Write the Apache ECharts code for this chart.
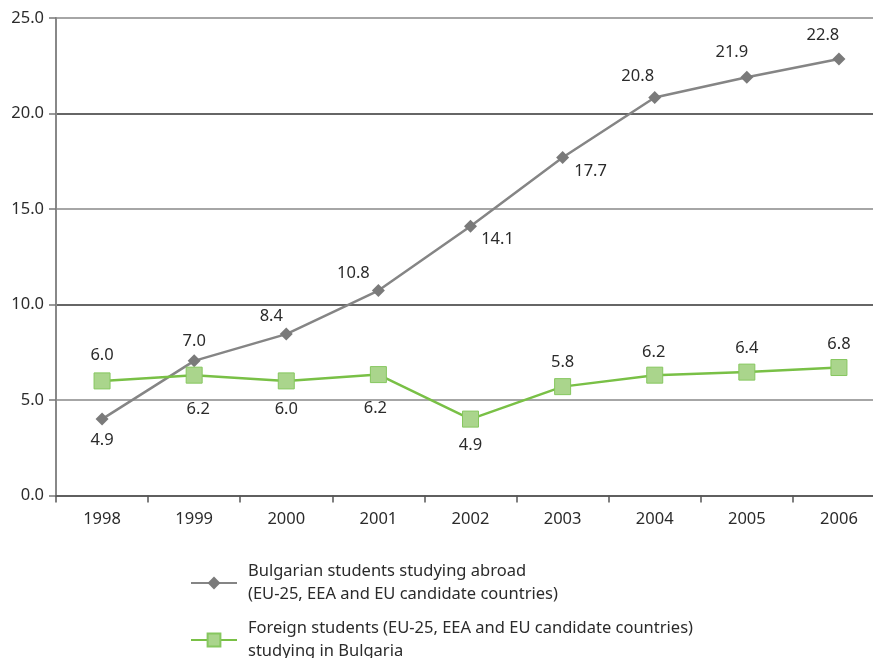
<!DOCTYPE html>
<html>
<head>
<meta charset="utf-8">
<title>Students</title>
<script src="https://cdn.jsdelivr.net/npm/echarts@6/dist/echarts.min.js"></script>
<style>
  html, body { margin: 0; padding: 0; width: 100%; height: 100%; overflow: hidden; background: #fff; }
  #main { width: 873px; height: 658px; }
</style>
</head>
<body>
<div id="main"></div>
<script>
// data
var years = ['1998', '1999', '2000', '2001', '2002', '2003', '2004', '2005', '2006'];
var abroadValues = [4.0, 7.05, 8.45, 10.73, 14.1, 17.7, 20.84, 21.9, 22.85];
var abroadLabels = ['4.9', '7.0', '8.4', '10.8', '14.1', '17.7', '20.8', '21.9', '22.8'];
var foreignValues = [6.0, 6.3, 6.0, 6.33, 4.0, 5.7, 6.3, 6.46, 6.7];
var foreignLabels = ['6.0', '6.2', '6.0', '6.2', '4.9', '5.8', '6.2', '6.4', '6.8'];
var yTicks = [0, 5, 10, 15, 20, 25];
var seriesNames = [
  'Bulgarian students studying abroad\n(EU-25, EEA and EU candidate countries)',
  'Foreign students (EU-25, EEA and EU candidate countries)\nstudying in Bulgaria'
];

// label placement (style only)
var abroadOffsets = [[0, 21], [0, -20], [-15, -18], [-25, -17], [27, 13], [28, 14], [-17, -21], [-15, -25], [-16, -24]];
var foreignOffsets = [[0, -26], [4, 34], [0, 28], [-3, 34], [0, 26], [0, -24], [-1, -23], [0, -24], [0, -23]];

var font = '"Noto Sans", "Open Sans", sans-serif';
var textColor = '#2b2b2b';

function build(values, labels, offsets) {
  return values.map(function (v, i) {
    return {
      value: v,
      label: {
        show: true,
        position: 'inside',
        offset: offsets[i],
        formatter: labels[i],
        color: textColor,
        fontSize: 16.5,
        fontFamily: font
      }
    };
  });
}

function legendAt(name, top) {
  return {
    orient: 'vertical',
    left: 190,
    top: top,
    padding: 0,
    itemWidth: 46,
    itemHeight: 16,
    textStyle: { color: textColor, fontSize: 16.5, fontFamily: font, lineHeight: 23, padding: [0, 0, 0, 6] },
    data: [name]
  };
}

var chart = echarts.init(document.getElementById('main'), null, { renderer: 'canvas' });
chart.setOption({
  animation: false,
  backgroundColor: '#fff',
  grid: { left: 56, top: 18, right: -12, bottom: 162.5, containLabel: false, outerBoundsMode: 'none' },
  xAxis: {
    type: 'category',
    data: years,
    boundaryGap: true,
    axisLine: { lineStyle: { color: '#555', width: 1.5 } },
    axisTick: { show: true, length: 7, lineStyle: { color: '#555', width: 1.5 } },
    axisLabel: { color: textColor, fontSize: 16.5, fontFamily: font, margin: 15 }
  },
  yAxis: {
    type: 'value',
    min: yTicks[0],
    max: yTicks[yTicks.length - 1],
    interval: 5,
    axisLine: { show: true, lineStyle: { color: '#888', width: 2 } },
    axisTick: { show: true, length: 7, lineStyle: { color: '#777', width: 1.5 } },
    axisLabel: {
      color: textColor, fontSize: 16.5, fontFamily: font, margin: 12,
      formatter: function (v) { return v.toFixed(1); }
    },
    splitLine: { show: true, lineStyle: { color: ['#555', '#888', '#333', '#888', '#333', '#888'], width: 1.5 } }
  },
  legend: [legendAt(seriesNames[0], 560), legendAt(seriesNames[1], 617)],
  series: [
    {
      name: seriesNames[0],
      type: 'line',
      data: build(abroadValues, abroadLabels, abroadOffsets),
      symbol: 'diamond',
      symbolSize: 13,
      lineStyle: { color: '#858585', width: 2.5 },
      itemStyle: { color: '#7a7a7a' },
      z: 3
    },
    {
      name: seriesNames[1],
      type: 'line',
      data: build(foreignValues, foreignLabels, foreignOffsets),
      symbol: 'rect',
      symbolSize: 16,
      lineStyle: { color: '#79c046', width: 2.5 },
      itemStyle: { color: '#aad58c', borderColor: '#86c75f', borderWidth: 1 },
      z: 4
    }
  ]
});
</script>
</body>
</html>
